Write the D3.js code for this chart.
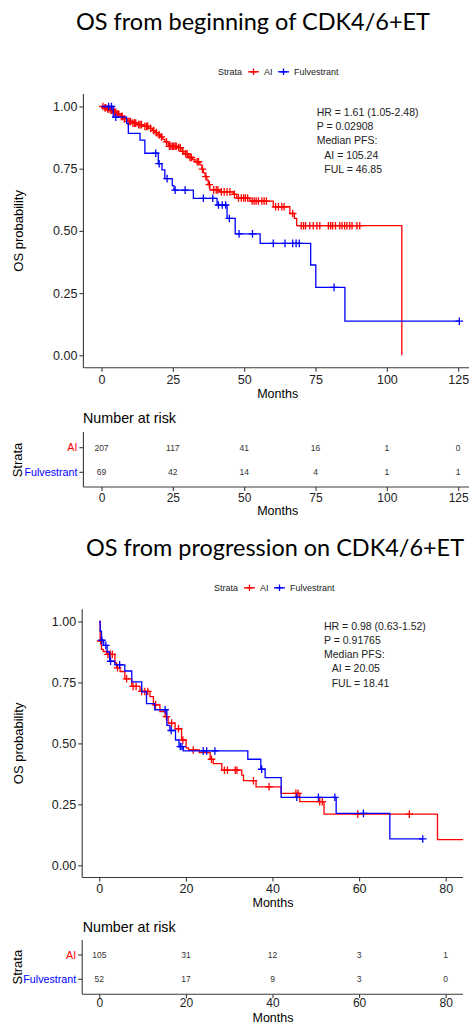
<!DOCTYPE html>
<html>
<head>
<meta charset="utf-8">
<script src="https://cdn.jsdelivr.net/npm/d3@7"></script>
<style>
  body { margin: 0; background: #fff; }
  svg { display: block; }
</style>
</head>
<body>
<svg id="chart" width="469" height="1023"></svg>
<script>
// ---------- data: OS from beginning of CDK4/6+ET ----------
const strata = ["AI", "Fulvestrant"];
const strataColors = ["#ff0000", "#0000ff"];
const yTicks = [0, 0.25, 0.5, 0.75, 1];

const p1Title = "OS from beginning of CDK4/6+ET";
const p1XTicks = [0, 25, 50, 75, 100, 125];
// event times (months) and survival right after each event
const p1AiTime = [0.8, 1.8, 3.0, 4.1, 5.2, 6.5, 7.6, 8.8, 10.5, 12.5, 14.7, 16.5, 17.8, 18.8, 19.8, 20.6, 21.5, 22.2, 23.4, 26.5, 28.2, 28.9, 30.4, 32.0, 32.8, 34.5, 35.2, 35.7, 36.3, 36.9, 37.4, 38.0, 41.5, 46.2, 47.4, 52.0, 60.2, 66.0, 67.6, 68.4, 105.24];
const p1AiSurv = [0.995, 0.99, 0.985, 0.978, 0.97, 0.96, 0.95, 0.94, 0.933, 0.927, 0.92, 0.912, 0.903, 0.895, 0.886, 0.878, 0.868, 0.858, 0.84, 0.835, 0.82, 0.81, 0.795, 0.786, 0.778, 0.765, 0.748, 0.733, 0.718, 0.704, 0.686, 0.665, 0.657, 0.647, 0.632, 0.62, 0.597, 0.57, 0.55, 0.521, 0];
const p1AiCensor = [0.5, 1.2, 1.5, 2.2, 2.6, 3.3, 3.6, 4.5, 5.0, 5.6, 6.0, 7.0, 7.3, 8.0, 9.3, 9.7, 10.2, 11.0, 11.6, 12.0, 13.0, 13.5, 14.0, 15.2, 15.8, 16.2, 17.2, 18.3, 19.2, 20.2, 21.0, 22.8, 23.8, 24.3, 24.8, 25.3, 25.8, 26.2, 27.0, 27.6, 28.5, 29.5, 30.0, 31.0, 31.5, 33.5, 34.0, 35.4, 36.6, 37.8, 39.3, 40.2, 40.8, 42.0, 43.0, 44.0, 45.0, 46.6, 48.0, 49.0, 49.8, 50.4, 51.2, 52.8, 53.5, 54.2, 55.0, 56.2, 57.0, 57.8, 61.0, 62.0, 63.2, 64.0, 67.0, 70.0, 70.8, 71.5, 73.0, 74.2, 75.5, 76.5, 79.5, 80.3, 81.0, 82.0, 83.5, 84.3, 85.2, 86.0, 87.0, 87.8, 89.5, 90.5];
const p1AiEnd = 105.24;
const p1FulTime = [4.1, 8.8, 9.4, 13.5, 15.2, 19.9, 21.2, 22.2, 24.8, 25.4, 32.2, 40.5, 44.0, 46.85, 55.6, 73.3, 75.1, 85.3];
const p1FulSurv = [0.957, 0.932, 0.892, 0.865, 0.812, 0.77, 0.745, 0.71, 0.682, 0.664, 0.631, 0.604, 0.55, 0.488, 0.45, 0.363, 0.273, 0.137];
const p1FulCensor = [2.5, 3.5, 5.0, 19.0, 20.2, 23.0, 25.8, 29.3, 35.7, 39.0, 41.0, 42.3, 43.5, 44.8, 48.2, 52.9, 60.2, 64.3, 67.0, 68.2, 69.3, 81.5, 125.4];
const p1FulEnd = 125.4;
const p1Stats = ["HR = 1.61 (1.05-2.48)", "P = 0.02908", "Median PFS:", "AI = 105.24", "FUL = 46.85"];
const p1RiskAi = [207, 117, 41, 16, 1, 0];
const p1RiskFul = [69, 42, 14, 4, 1, 1];

// ---------- data: OS from progression on CDK4/6+ET ----------
const p2Title = "OS from progression on CDK4/6+ET";
const p2XTicks = [0, 20, 40, 60, 80];
const p2AiTime = [0.2, 0.5, 0.9, 1.7, 3.6, 4.0, 4.8, 5.9, 7.5, 9.4, 11.7, 12.5, 14.0, 15.2, 15.9, 17.5, 19.0, 20.05, 20.6, 23.1, 25.6, 26.3, 28.3, 32.9, 33.3, 36.2, 42.0, 46.3, 51.9, 78.1];
const p2AiSurv = [0.92, 0.886, 0.877, 0.865, 0.83, 0.81, 0.795, 0.765, 0.734, 0.713, 0.692, 0.658, 0.63, 0.61, 0.583, 0.56, 0.514, 0.482, 0.473, 0.462, 0.435, 0.417, 0.39, 0.37, 0.347, 0.322, 0.295, 0.261, 0.21, 0.105];
const p2AiCensor = [0.3, 2.0, 2.5, 3.0, 4.2, 6.3, 7.8, 8.5, 9.8, 10.5, 11.2, 13.0, 15.5, 16.7, 18.3, 19.3, 21.7, 25.9, 28.9, 29.6, 31.4, 31.8, 35.6, 39.2, 45.4, 45.9, 50.9, 51.5, 59.7, 71.6];
const p2AiEnd = 84;
const p2FulTime = [0.2, 0.5, 1.0, 1.8, 2.4, 3.6, 5.9, 7.5, 9.8, 10.9, 12.8, 15.6, 16.3, 17.6, 18.41, 19.4, 34.3, 37.3, 38.3, 42.0, 54.7, 67.1];
const p2FulSurv = [0.96, 0.923, 0.902, 0.875, 0.837, 0.822, 0.797, 0.752, 0.711, 0.663, 0.638, 0.574, 0.553, 0.514, 0.487, 0.469, 0.435, 0.394, 0.36, 0.279, 0.213, 0.108];
const p2FulCensor = [0.6, 1.5, 2.6, 4.7, 15.2, 16.6, 18.7, 19.1, 24.0, 24.8, 26.7, 37.5, 45.6, 50.6, 54.4, 61.0, 74.7];
const p2FulEnd = 74.7;
const p2Stats = ["HR = 0.98 (0.63-1.52)", "P = 0.91765", "Median PFS:", "AI = 20.05", "FUL = 18.41"];
const p2RiskAi = [105, 31, 12, 3, 1];
const p2RiskFul = [52, 17, 9, 3, 0];

// ---------- drawing ----------
const svg = d3.select("#chart");
const SANS = "'Liberation Sans', Arial, sans-serif";
const AXIS = "#3a3a3a";

function stepData(times, surv, end) {
  const pts = [[0, 1]];
  times.forEach((t, i) => pts.push([t, surv[i]]));
  pts.push([end, surv[surv.length - 1]]);
  return pts;
}
function survAt(times, surv, t) {
  let s = 1;
  times.forEach((ti, i) => { if (ti <= t) s = surv[i]; });
  return s;
}
function plus(g, x, y, r, color, w) {
  g.append("path")
    .attr("d", `M${x - r},${y}H${x + r}M${x},${y - r}V${y + r}`)
    .attr("stroke", color).attr("stroke-width", w).attr("fill", "none");
}

function drawPanel(c) {
  const g = svg.append("g");

  // title
  g.append("text")
    .attr("x", c.titleX).attr("y", c.titleY)
    .attr("text-anchor", "middle")
    .style("font-family", "Lato, 'Open Sans', sans-serif")
    .style("font-size", "23px").attr("fill", "#000")
    .attr("textLength", c.titleW).attr("lengthAdjust", "spacingAndGlyphs")
    .text(c.title);

  // legend
  const lg = g.append("g").style("font-family", SANS).style("font-size", "9px");
  lg.append("text").attr("x", c.legX).attr("y", c.legY).attr("fill", "#222").text("Strata");
  [[30, 46], [60, 76]].forEach(([kx, tx], i) => {
    const cy = c.legY - 3.2;
    lg.append("line").attr("x1", c.legX + kx).attr("x2", c.legX + kx + 11)
      .attr("y1", cy).attr("y2", cy).attr("stroke", strataColors[i]).attr("stroke-width", 1.3);
    plus(lg, c.legX + kx + 5.5, cy, 3.2, strataColors[i], 1.3);
    lg.append("text").attr("x", c.legX + tx).attr("y", c.legY).attr("fill", "#222").text(strata[i]);
  });

  // scales
  const x = d3.scaleLinear().domain(c.xDomain).range(c.xRange);
  const y = d3.scaleLinear().domain([0, 1]).range(c.yRange);
  const xMin = c.axisLeft, xMax = c.axisRight;
  const yTop = y(1.05), yBot = y(-0.05);

  // y axis
  const ya = g.append("g").attr("transform", `translate(${xMin},0)`)
    .call(d3.axisLeft(y).tickValues(yTicks).tickFormat(d3.format(".2f")).tickSize(4).tickPadding(2));
  ya.select(".domain").remove();
  ya.append("line").attr("y1", yTop).attr("y2", yBot).attr("stroke", AXIS).attr("stroke-width", 1.1);
  ya.selectAll(".tick line").attr("stroke", AXIS).attr("stroke-width", 1.1);
  ya.selectAll(".tick text").style("font-family", SANS).style("font-size", "12.5px").attr("fill", "#222");

  // x axis
  const xa = g.append("g").attr("transform", `translate(0,${yBot})`)
    .call(d3.axisBottom(x).tickValues(c.xTicks).tickSize(4).tickPadding(3));
  xa.select(".domain").remove();
  xa.append("line").attr("x1", xMin).attr("x2", xMax).attr("stroke", AXIS).attr("stroke-width", 1.1);
  xa.selectAll(".tick line").attr("stroke", AXIS).attr("stroke-width", 1.1);
  xa.selectAll(".tick text").style("font-family", SANS).style("font-size", "12.5px").attr("fill", "#222");

  // axis titles
  g.append("text").attr("transform", `translate(${c.yLabX},${(y(0) + y(1)) / 2}) rotate(-90)`)
    .attr("text-anchor", "middle").style("font-family", SANS).style("font-size", "13px")
    .attr("fill", "#000").text("OS probability");
  g.append("text").attr("x", c.monthsX).attr("y", c.monthsY).attr("text-anchor", "middle")
    .style("font-family", SANS).style("font-size", "12.5px").attr("fill", "#000").text("Months");

  // curves
  const line = d3.line().x(d => x(d[0])).y(d => y(d[1])).curve(d3.curveStepAfter);
  const series = [
    { t: c.aiTime, s: c.aiSurv, cen: c.aiCensor, end: c.aiEnd, col: strataColors[0] },
    { t: c.fulTime, s: c.fulSurv, cen: c.fulCensor, end: c.fulEnd, col: strataColors[1] }
  ];
  const cg = g.append("g");
  series.forEach(se => {
    cg.append("path").datum(stepData(se.t, se.s, se.end)).attr("d", line)
      .attr("fill", "none").attr("stroke", se.col).attr("stroke-width", 1.3);
    se.cen.forEach(t => plus(cg, x(t), y(survAt(se.t, se.s, t)), 3.8, se.col, 1.3));
  });

  // statistics text
  const st = g.append("g").style("font-family", SANS).style("font-size", "10.5px").attr("fill", "#222");
  c.stats.forEach((s, i) => {
    st.append("text").attr("x", i >= 3 ? c.statX + c.statIndent : c.statX)
      .attr("y", c.statY + i * 14.2).text(s);
  });

  // risk table
  const tg = g.append("g");
  tg.append("text").attr("x", c.riskTitleX).attr("y", c.riskTitleY)
    .style("font-family", SANS).style("font-size", "14.3px").attr("fill", "#000").text("Number at risk");
  const ry = d3.scalePoint().domain(strata).range(c.rowY);
  tg.append("line").attr("x1", xMin).attr("x2", xMin).attr("y1", c.tableTop).attr("y2", c.tableBot)
    .attr("stroke", AXIS).attr("stroke-width", 1.1);
  tg.append("line").attr("x1", xMin).attr("x2", xMax).attr("y1", c.tableBot).attr("y2", c.tableBot)
    .attr("stroke", AXIS).attr("stroke-width", 1.1);
  strata.forEach((s, i) => {
    tg.append("line").attr("x1", xMin - 4).attr("x2", xMin).attr("y1", ry(s)).attr("y2", ry(s))
      .attr("stroke", AXIS).attr("stroke-width", 1.1);
    tg.append("text").attr("x", xMin - 6).attr("y", ry(s)).attr("dy", "0.35em")
      .attr("text-anchor", "end").style("font-family", SANS).style("font-size", "10.7px")
      .attr("fill", strataColors[i]).text(s);
    const vals = i === 0 ? c.riskAi : c.riskFul;
    vals.forEach((v, j) => {
      tg.append("text").attr("x", x(c.xTicks[j])).attr("y", ry(s)).attr("dy", "0.35em")
        .attr("text-anchor", "middle").style("font-family", SANS).style("font-size", "8.5px")
        .attr("fill", "#333").text(v);
    });
  });
  const ta = tg.append("g").attr("transform", `translate(0,${c.tableBot})`)
    .call(d3.axisBottom(x).tickValues(c.xTicks).tickSize(4).tickPadding(c.tableTickPad));
  ta.select(".domain").remove();
  ta.selectAll(".tick line").attr("stroke", AXIS).attr("stroke-width", 1.1);
  ta.selectAll(".tick text").style("font-family", SANS).style("font-size", "12px").attr("fill", "#222");
  tg.append("text").attr("x", c.monthsX).attr("y", c.tableMonthsY).attr("text-anchor", "middle")
    .style("font-family", SANS).style("font-size", "12.5px").attr("fill", "#000").text("Months");
  tg.append("text").attr("transform", `translate(${c.yLabX - 1},${(c.rowY[0] + c.rowY[1]) / 2}) rotate(-90)`)
    .attr("text-anchor", "middle").style("font-family", SANS).style("font-size", "13px")
    .attr("fill", "#000").text("Strata");
}

drawPanel({
  title: p1Title, titleX: 253, titleY: 29.5, titleW: 354,
  legX: 218, legY: 75,
  xDomain: [0, 125], xRange: [101.5, 458.2], axisLeft: 83.4, axisRight: 472,
  yRange: [355.3, 106.5], xTicks: p1XTicks,
  yLabX: 22.5, monthsX: 277.7, monthsY: 398,
  aiTime: p1AiTime, aiSurv: p1AiSurv, aiCensor: p1AiCensor, aiEnd: p1AiEnd,
  fulTime: p1FulTime, fulSurv: p1FulSurv, fulCensor: p1FulCensor, fulEnd: p1FulEnd,
  stats: p1Stats, statX: 316.7, statIndent: 7.6, statY: 116,
  riskTitleX: 83, riskTitleY: 423, tableTop: 432, tableBot: 487, rowY: [447.7, 472.3],
  riskAi: p1RiskAi, riskFul: p1RiskFul, tableMonthsY: 515, tableTickPad: 2
});

drawPanel({
  title: p2Title, titleX: 275, titleY: 555.7, titleW: 378,
  legX: 214, legY: 591,
  xDomain: [0, 80], xRange: [99.3, 445.7], axisLeft: 82.2, axisRight: 463,
  yRange: [865.3, 621.5], xTicks: p2XTicks,
  yLabX: 22.5, monthsX: 273, monthsY: 906.5,
  aiTime: p2AiTime, aiSurv: p2AiSurv, aiCensor: p2AiCensor, aiEnd: p2AiEnd,
  fulTime: p2FulTime, fulSurv: p2FulSurv, fulCensor: p2FulCensor, fulEnd: p2FulEnd,
  stats: p2Stats, statX: 324, statIndent: 7.7, statY: 629.7,
  riskTitleX: 82.7, riskTitleY: 931.7, tableTop: 940, tableBot: 994.3, rowY: [955, 979.3],
  riskAi: p2RiskAi, riskFul: p2RiskFul, tableMonthsY: 1021.5, tableTickPad: 0
});
</script>
</body>
</html>
